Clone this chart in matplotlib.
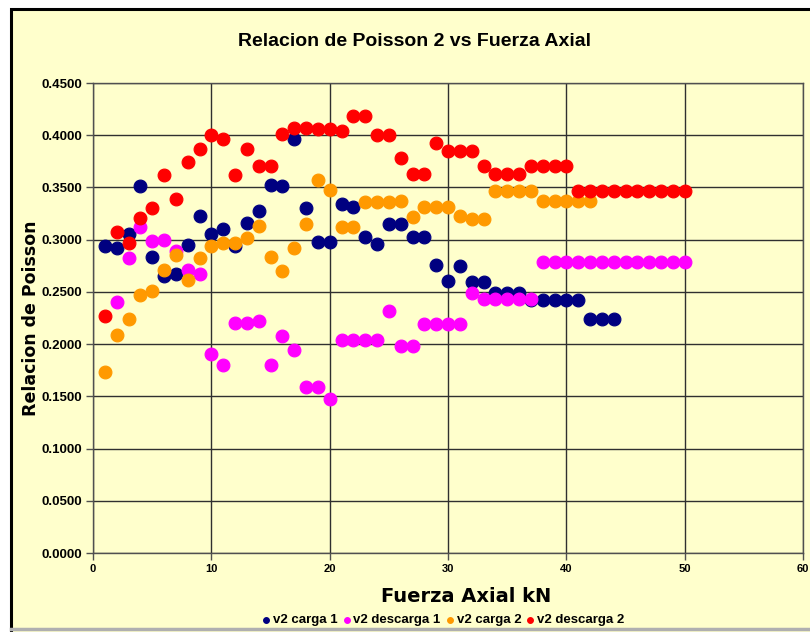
import numpy as np
import matplotlib
matplotlib.use("Agg")
import matplotlib.pyplot as plt
from matplotlib.patches import Rectangle
from matplotlib.lines import Line2D
from matplotlib.ticker import MultipleLocator, FormatStrFormatter

# Relacion de Poisson 2 vs Fuerza Axial
x_carga1 = list(range(1, 45))
v2_carga1 = [0.294, 0.292, 0.305, 0.351, 0.283, 0.265, 0.267, 0.295, 0.323, 0.305,
             0.310, 0.294, 0.316, 0.327, 0.352, 0.351, 0.396, 0.330, 0.298, 0.298,
             0.334, 0.331, 0.303, 0.296, 0.315, 0.315, 0.303, 0.303, 0.276, 0.260,
             0.275, 0.259, 0.259, 0.249, 0.249, 0.249, 0.242, 0.242, 0.242, 0.242,
             0.242, 0.224, 0.224, 0.224]

x_descarga1 = list(range(2, 51))
v2_descarga1 = [0.240, 0.282, 0.312, 0.299, 0.300, 0.289, 0.271, 0.267, 0.191,
                0.180, 0.220, 0.220, 0.222, 0.180, 0.208, 0.194, 0.159, 0.159, 0.147,
                0.204, 0.204, 0.204, 0.204, 0.232, 0.198, 0.198, 0.219, 0.219, 0.219,
                0.219, 0.249, 0.243, 0.243, 0.243, 0.243, 0.243,
                0.279, 0.279, 0.279, 0.279, 0.279, 0.279, 0.279, 0.279, 0.279, 0.279,
                0.279, 0.279, 0.279]

x_carga2 = list(range(1, 43))
v2_carga2 = [0.173, 0.209, 0.224, 0.247, 0.251, 0.271, 0.285, 0.261, 0.282, 0.294,
             0.297, 0.297, 0.302, 0.313, 0.283, 0.270, 0.292, 0.315, 0.357, 0.348,
             0.312, 0.312, 0.336, 0.336, 0.336, 0.337, 0.322, 0.331, 0.331, 0.331,
             0.323, 0.320, 0.320, 0.347, 0.347, 0.347, 0.347, 0.337, 0.337, 0.337,
             0.337, 0.337]

x_descarga2 = list(range(1, 51))
v2_descarga2 = [0.227, 0.307, 0.297, 0.321, 0.330, 0.362, 0.339, 0.374, 0.387, 0.400,
                0.396, 0.362, 0.387, 0.371, 0.371, 0.401, 0.407, 0.407, 0.406, 0.406,
                0.404, 0.418, 0.418, 0.400, 0.400, 0.378, 0.363, 0.363, 0.393, 0.385,
                0.385, 0.385, 0.371, 0.363, 0.363, 0.363, 0.371, 0.371, 0.371, 0.371,
                0.347, 0.347, 0.347, 0.347, 0.347, 0.347, 0.347, 0.347, 0.347, 0.347]

series = [("v2 carga 1", x_carga1, v2_carga1, "#000080"),
          ("v2 descarga 1", x_descarga1, v2_descarga1, "#FF00FF"),
          ("v2 carga 2", x_carga2, v2_carga2, "#FF9900"),
          ("v2 descarga 2", x_descarga2, v2_descarga2, "#FF0000")]

BG = "#FFFFCC"
FONT = "Liberation Sans"

fig = plt.figure(figsize=(8.1, 6.32), dpi=100, facecolor="white")
fig.patches.append(Rectangle((11 / 810, -0.05), 1.0, 1.05 - 9 / 632, transform=fig.transFigure,
                             facecolor=BG, edgecolor="black", lw=2.2, zorder=-10))
fig.lines.append(Line2D([11 / 810, 1], [3 / 632, 3 / 632], transform=fig.transFigure,
                        color="#B0B0B0", lw=2.5, zorder=-5))

ax = fig.add_axes([93 / 810, 1 - 553 / 632, 710 / 810, 470 / 632])
ax.set_facecolor(BG)

for name, xs, ys, col in series:
    ax.scatter(xs, ys, s=85, color=col, edgecolors=col, linewidths=0.8, label=name, zorder=3)

ax.set_xlim(0, 60)
ax.set_ylim(0, 0.45)
ax.xaxis.set_major_locator(MultipleLocator(10))
ax.yaxis.set_major_locator(MultipleLocator(0.05))
ax.yaxis.set_major_formatter(FormatStrFormatter("%.4f"))
ax.grid(True, color="#303030", lw=1.0, zorder=1)
ax.set_axisbelow(True)
for s in ax.spines.values():
    s.set_color("#505050")
    s.set_linewidth(1.0)
ax.tick_params(axis="both", direction="out", length=5, width=1, color="#505050")
for lab in ax.get_yticklabels():
    lab.set_fontfamily(FONT)
    lab.set_fontweight("bold")
    lab.set_fontsize(9.5)
for lab in ax.get_xticklabels():
    lab.set_fontfamily(FONT)
    lab.set_fontweight("bold")
    lab.set_fontsize(8)
ax.tick_params(axis="y", pad=3)
ax.tick_params(axis="x", pad=3)

fig.text(0.512, 1 - 42 / 632, "Relacion de Poisson 2 vs Fuerza Axial", ha="center", va="center",
         fontfamily=FONT, fontweight="bold", fontsize=14)
fig.text(466 / 810, 1 - 597 / 632, "Fuerza Axial kN", ha="center", va="center",
         fontfamily="DejaVu Sans", fontweight="bold", fontsize=14)
fig.text(31 / 810, 1 - 318 / 632, "Relacion de Poisson", ha="center", va="center", rotation=90,
         fontfamily="DejaVu Sans", fontweight="bold", fontsize=12.5)

leg = fig.legend(loc="center", bbox_to_anchor=(442 / 810, 1 - 620 / 632), ncol=4, frameon=False,
                 handletextpad=0.0, columnspacing=0.2, markerscale=0.45, borderpad=0,
                 handlelength=1.0, prop={"family": FONT, "weight": "bold", "size": 9.5})

fig.savefig("out.png", dpi=100, facecolor=fig.get_facecolor())
